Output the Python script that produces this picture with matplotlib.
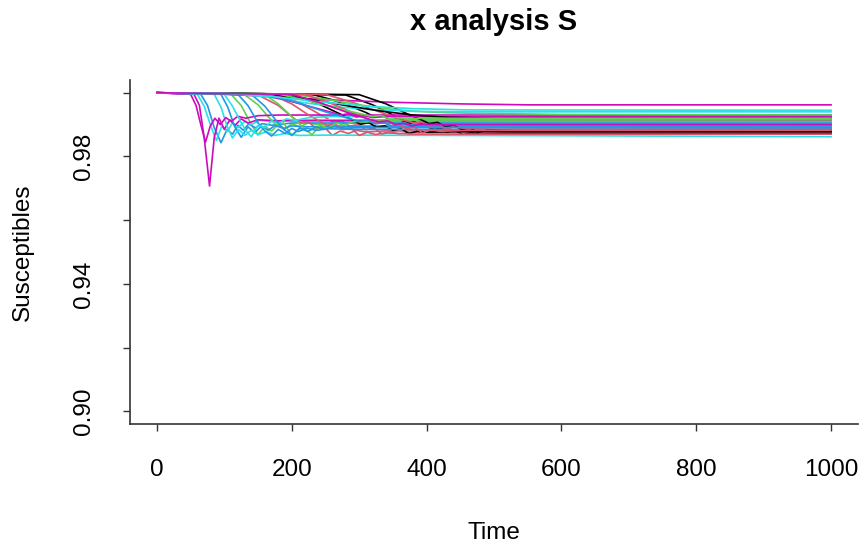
import matplotlib
matplotlib.use("Agg")
import matplotlib.pyplot as plt

# R default palette (matplot cycles through the first six)
palette = ["#000000", "#DF536B", "#61D04F", "#2297E6", "#28E2E5", "#CD0BBC"]

# Block 1 of the S trajectories (time, susceptible fraction)
times_a = [
    [0, 230, 260, 290, 310, 322, 334, 346, 358, 370, 382, 394, 406, 418, 430, 442, 454, 470, 520, 1000],
    [0, 180, 210, 235, 250, 262, 274, 286, 298, 310, 322, 334, 346, 358, 380, 420, 1000],
    [0, 110, 125, 140, 150, 160, 170, 180, 190, 200, 212, 224, 240, 270, 1000],
    [0, 65, 75, 85, 95, 104, 112, 120, 128, 136, 146, 156, 170, 200, 1000],
    [0, 60, 70, 80, 88, 96, 104, 112, 120, 130, 140, 152, 170, 200, 1000],
    [0, 55, 63, 70, 78, 85, 92, 100, 108, 116, 125, 135, 150, 180, 1000],
    [0, 280, 320, 350, 370, 382, 394, 406, 418, 430, 442, 454, 466, 480, 520, 1000],
    [0, 150, 180, 200, 212, 224, 236, 248, 260, 272, 284, 296, 310, 340, 1000],
    [0, 130, 150, 165, 176, 188, 200, 212, 224, 236, 248, 262, 280, 320, 1000],
    [0, 95, 105, 115, 125, 135, 145, 155, 165, 175, 188, 200, 220, 260, 1000],
]
values_a = [
    [1, 0.9995, 0.9978, 0.9955, 0.9938, 0.9925, 0.9929, 0.9915, 0.9919, 0.9905, 0.9909, 0.9895, 0.9899, 0.9886, 0.9890, 0.9877, 0.9883, 0.9879, 0.9884, 0.9885],
    [1, 0.9993, 0.9970, 0.9940, 0.9922, 0.9907, 0.9912, 0.9895, 0.9900, 0.9884, 0.9889, 0.9870, 0.9878, 0.9871, 0.9876, 0.9875, 0.9875],
    [1, 0.9995, 0.9960, 0.9900, 0.9868, 0.9895, 0.9880, 0.9900, 0.9886, 0.9903, 0.9893, 0.9905, 0.9900, 0.9905, 0.9905],
    [1, 0.9995, 0.9960, 0.9890, 0.9843, 0.9885, 0.9870, 0.9898, 0.9882, 0.9902, 0.9890, 0.9903, 0.9898, 0.9905, 0.9905],
    [1, 0.9995, 0.9958, 0.9895, 0.9850, 0.9895, 0.9878, 0.9905, 0.9890, 0.9910, 0.9900, 0.9913, 0.9910, 0.9915, 0.9915],
    [1, 0.9995, 0.9960, 0.9860, 0.9707, 0.9860, 0.9920, 0.9885, 0.9915, 0.9898, 0.9918, 0.9905, 0.9915, 0.9912, 0.9912],
    [1, 0.9993, 0.9962, 0.9930, 0.9910, 0.9897, 0.9902, 0.9888, 0.9892, 0.9877, 0.9882, 0.9868, 0.9874, 0.9870, 0.9872, 0.9872],
    [1, 0.9993, 0.9960, 0.9925, 0.9905, 0.9910, 0.9888, 0.9893, 0.9866, 0.9880, 0.9872, 0.9882, 0.9877, 0.9880, 0.9880],
    [1, 0.9994, 0.9962, 0.9925, 0.9900, 0.9905, 0.9866, 0.9888, 0.9878, 0.9893, 0.9886, 0.9896, 0.9893, 0.9895, 0.9895],
    [1, 0.9995, 0.9955, 0.9895, 0.9860, 0.9893, 0.9875, 0.9895, 0.9882, 0.9897, 0.9888, 0.9896, 0.9893, 0.9895, 0.9895],
]

# Block 2
times_b = [
    [0, 85, 95, 104, 112, 121, 130, 140, 150, 162, 175, 190, 210, 250, 600, 1000],
    [0, 50, 58, 65, 72, 79, 86, 94, 102, 110, 120, 132, 150, 180, 1000],
    [0, 200, 240, 270, 290, 302, 314, 326, 338, 350, 362, 374, 386, 400, 440, 1000],
    [0, 170, 200, 225, 240, 252, 264, 276, 288, 300, 312, 324, 340, 380, 1000],
    [0, 160, 180, 200, 215, 230, 242, 254, 266, 278, 292, 310, 340, 1000],
    [0, 120, 135, 150, 160, 170, 180, 190, 200, 210, 222, 236, 255, 290, 1000],
    [0, 100, 112, 124, 132, 140, 150, 160, 170, 180, 192, 206, 225, 260, 1000],
    [0, 80, 150, 250, 350, 450, 550, 1000],
    [0, 300, 340, 370, 392, 404, 416, 428, 440, 452, 464, 476, 490, 540, 1000],
    [0, 250, 290, 330, 360, 380, 392, 404, 416, 428, 440, 460, 500, 1000],
]
values_b = [
    [1, 0.9995, 0.9955, 0.9895, 0.9858, 0.9885, 0.9866, 0.9882, 0.9868, 0.9878, 0.9866, 0.9872, 0.9866, 0.9867, 0.9865, 0.9862],
    [1, 0.9995, 0.9960, 0.9900, 0.9845, 0.9895, 0.9920, 0.9900, 0.9922, 0.9910, 0.9926, 0.9920, 0.9928, 0.9930, 0.9930],
    [1, 0.9994, 0.9965, 0.9935, 0.9915, 0.9901, 0.9906, 0.9892, 0.9896, 0.9882, 0.9887, 0.9872, 0.9879, 0.9876, 0.9878, 0.9878],
    [1, 0.9994, 0.9965, 0.9930, 0.9912, 0.9897, 0.9902, 0.9884, 0.9889, 0.9866, 0.9876, 0.9869, 0.9874, 0.9870, 0.9870],
    [1, 0.9994, 0.9965, 0.9925, 0.9895, 0.9868, 0.9898, 0.9888, 0.9905, 0.9898, 0.9910, 0.9908, 0.9914, 0.9915],
    [1, 0.9995, 0.9960, 0.9905, 0.9880, 0.9864, 0.9885, 0.9872, 0.9888, 0.9878, 0.9889, 0.9882, 0.9887, 0.9885, 0.9885],
    [1, 0.9995, 0.9958, 0.9910, 0.9880, 0.9862, 0.9898, 0.9890, 0.9912, 0.9903, 0.9918, 0.9913, 0.9922, 0.9925, 0.9925],
    [1, 0.9998, 0.9990, 0.9978, 0.9970, 0.9965, 0.9962, 0.9962],
    [1, 0.9994, 0.9965, 0.9935, 0.9915, 0.9903, 0.9907, 0.9894, 0.9898, 0.9885, 0.9889, 0.9876, 0.9882, 0.9880, 0.9880],
    [1, 0.9995, 0.9970, 0.9940, 0.9918, 0.9905, 0.9908, 0.9895, 0.9899, 0.9886, 0.9892, 0.9888, 0.9890, 0.9890],
]

# Block 3
times_c = [
    [0, 200, 250, 300, 340, 380, 420, 480, 600, 1000],
    [0, 140, 160, 176, 188, 200, 212, 224, 236, 248, 262, 280, 310, 1000],
    [0, 120, 170, 220, 270, 320, 380, 450, 1000],
    [0, 150, 190, 230, 260, 272, 284, 296, 308, 320, 340, 380, 1000],
    [0, 160, 220, 280, 330, 380, 430, 500, 1000],
    [0, 220, 260, 290, 310, 322, 334, 346, 358, 370, 382, 394, 406, 420, 460, 1000],
    [0, 180, 230, 270, 300, 320, 332, 344, 356, 370, 400, 1000],
    [0, 160, 210, 250, 280, 300, 312, 324, 336, 348, 360, 380, 420, 1000],
    [0, 100, 170, 240, 310, 380, 460, 1000],
    [0, 200, 240, 280, 310, 330, 342, 354, 366, 378, 392, 420, 1000],
]
values_c = [
    [1, 0.9996, 0.9980, 0.9962, 0.9950, 0.9942, 0.9938, 0.9935, 0.9932, 0.9930],
    [1, 0.9995, 0.9958, 0.9915, 0.9885, 0.9866, 0.9890, 0.9879, 0.9893, 0.9885, 0.9893, 0.9889, 0.9891, 0.9890],
    [1, 0.9997, 0.9985, 0.9968, 0.9955, 0.9947, 0.9942, 0.9940, 0.9940],
    [1, 0.9996, 0.9978, 0.9955, 0.9938, 0.9930, 0.9934, 0.9924, 0.9928, 0.9922, 0.9926, 0.9925, 0.9925],
    [1, 0.9997, 0.9982, 0.9960, 0.9943, 0.9930, 0.9923, 0.9920, 0.9920],
    [1, 0.9994, 0.9965, 0.9938, 0.9920, 0.9906, 0.9911, 0.9897, 0.9901, 0.9887, 0.9892, 0.9874, 0.9884, 0.9879, 0.9882, 0.9882],
    [1, 0.9996, 0.9972, 0.9950, 0.9935, 0.9925, 0.9929, 0.9918, 0.9922, 0.9918, 0.9920, 0.9920],
    [1, 0.9996, 0.9968, 0.9940, 0.9922, 0.9910, 0.9914, 0.9902, 0.9906, 0.9896, 0.9902, 0.9899, 0.9900, 0.9900],
    [1, 0.9998, 0.9988, 0.9972, 0.9958, 0.9950, 0.9946, 0.9945],
    [1, 0.9995, 0.9970, 0.9940, 0.9920, 0.9908, 0.9912, 0.9900, 0.9904, 0.9896, 0.9901, 0.9900, 0.9900],
]

x_ticks = [0, 200, 400, 600, 800, 1000]
y_ticks = [0.90, 0.92, 0.94, 0.96, 0.98, 1.00]
y_ticklabels = ["0.90", "", "0.94", "", "0.98", ""]

plt.rcParams['font.family'] = ['Liberation Sans', 'DejaVu Sans']

W, H = 861, 549
fig = plt.figure(figsize=(W / 100, H / 100), dpi=100)
ax = fig.add_axes([130 / W, 1 - 424 / H, (858 - 130) / W, (424 - 80) / H])

all_t = times_a + times_b + times_c
all_s = values_a + values_b + values_c
for i in range(len(all_t)):
    ax.plot(all_t[i], all_s[i], color=palette[i % len(palette)], lw=1.2)

ax.set_xlim(-40, 1040)
ax.set_ylim(0.896, 1.004)
ax.set_xticks(x_ticks)
ax.set_xticklabels([str(v) for v in x_ticks])
ax.set_yticks(y_ticks)
ax.set_yticklabels(y_ticklabels, rotation=90, va="center")
ax.tick_params(direction="out", length=5, width=1, labelsize=17.5, color="#333333")
ax.tick_params(axis="x", pad=20)
ax.tick_params(axis="y", pad=20)
for side in ["top", "right"]:
    ax.spines[side].set_visible(False)
for side in ["left", "bottom"]:
    ax.spines[side].set_linewidth(1.2)
    ax.spines[side].set_color("#333333")

fig.text(494 / W, 1 - 22 / H, "x analysis S", ha="center", va="center",
         fontsize=21, fontweight="bold")
fig.text(494 / W, 1 - 533 / H, "Time", ha="center", va="center", fontsize=17.5)
fig.text(23 / W, 1 - 252 / H, "Susceptibles", ha="center", va="center",
         rotation=90, fontsize=17.5)

fig.savefig("out.png", dpi=100)
